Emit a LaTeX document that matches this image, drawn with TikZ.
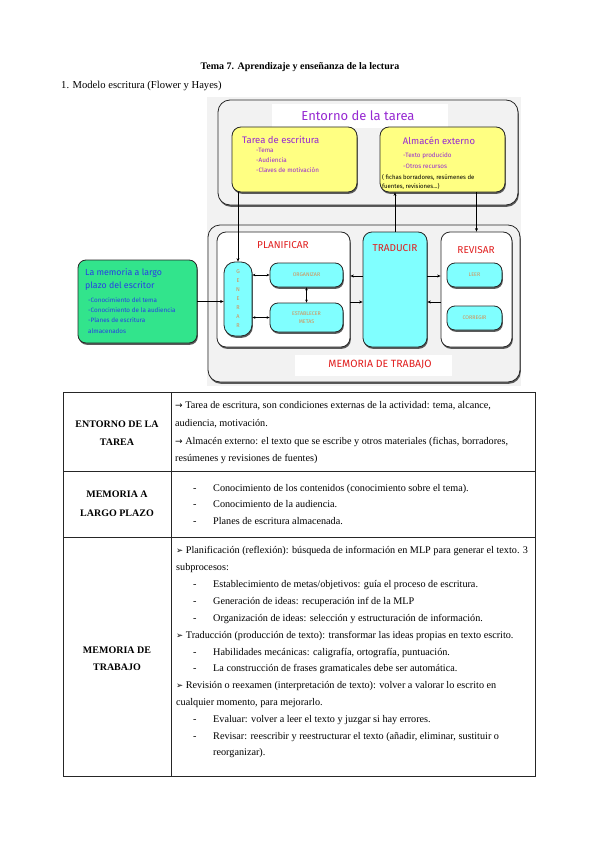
\documentclass[tikz,border=0pt]{standalone}
\usepackage{fontspec}
\setmainfont{Liberation Serif}
\newfontfamily\diag{Fira Sans}
\newfontfamily\symf{DejaVu Sans}
\usetikzlibrary{shadows,arrows.meta}
\definecolor{purp}{RGB}{150,40,210}
\definecolor{yel}{RGB}{255,255,130}
\definecolor{cyn}{RGB}{128,255,255}
\definecolor{grn}{RGB}{50,228,140}
\definecolor{redt}{RGB}{225,30,30}
\definecolor{orng}{RGB}{215,140,80}
\definecolor{bluet}{RGB}{40,60,230}
\definecolor{bggray}{RGB}{242,242,242}
\newcommand{\myarw}{{\symf\fontsize{9}{9}\selectfont →}}
\newcommand{\mybul}{{\symf\fontsize{8.5}{9}\selectfont ➢}}
\begin{document}
\begin{tikzpicture}[x=1pt,y=-1pt,
  shd/.style={drop shadow={shadow xshift=0.8pt,shadow yshift=-1.8pt,fill=black!80,opacity=0.8}},
  rbox/.style={draw=black!85,line width=0.8pt,rounded corners=9pt,inner sep=0pt,shd},
  ybox/.style={rbox,fill=yel},
  cbox/.style={rbox,fill=cyn},
  wbox/.style={rbox,fill=white},
  gbox/.style={rbox,fill=bggray},
  arr/.style={line width=0.5pt,-{Stealth[length=3.5pt,width=3pt]}},
  darr/.style={line width=0.5pt,{Stealth[length=3pt,width=2.6pt]}-{Stealth[length=3pt,width=2.6pt]}},
  dtitle/.style={inner sep=0pt,text=purp,font=\diag\fontsize{9.5}{11}\selectfont},
  ditem/.style={anchor=west,inner sep=0pt,text=purp,font=\diag\fontsize{6.3}{7}\selectfont},
  rtitle/.style={inner sep=0pt,text=redt,font=\diag\fontsize{10}{12}\selectfont},
  otext/.style={text=orng,font=\diag\fontsize{5.3}{6.5}\selectfont,align=center},
  tx/.style={anchor=base west,inner sep=0pt,font=\fontsize{10.2}{11}\selectfont},
  lbl/.style={anchor=base,inner sep=0pt,font=\bfseries\fontsize{10}{11}\selectfont},
  tbl/.style={line width=0.9pt,draw=black!85}]
\useasboundingbox (0,0) rectangle (600,848);
\fill[white] (0,0) rectangle (600,848);

% headings
\node[anchor=base,inner sep=0pt,font=\bfseries\fontsize{10}{11}\selectfont] (h1) at (300,70) {Tema 7. Aprendizaje y enseñanza de la lectura};
\node[anchor=base west,inner sep=0pt,font=\fontsize{10.6}{12}\selectfont] (h2) at (61,89) {1. Modelo escritura (Flower y Hayes)};

% diagram background
\fill[bggray] (207,97) rectangle (521,386);

% Entorno de la tarea
\node[gbox,rounded corners=12pt,minimum width=300,minimum height=105] (ent) at (368,152.5) {};
\fill[white] (272,104) rectangle (448,128);
\node[inner sep=0pt,text=purp,font=\diag\fontsize{13}{15}\selectfont] (entt) at (358,116) {Entorno de la tarea};

\node[ybox,minimum width=125,minimum height=65] (tar) at (294.5,159.5) {};
\node[dtitle,anchor=west] (tart) at (242,140) {Tarea de escritura};
\node[ditem] (tar1) at (256,150) {-Tema};
\node[ditem] (tar2) at (256,160) {-Audiencia};
\node[ditem] (tar3) at (256,170) {-Claves de motivación};

\node[ybox,minimum width=125,minimum height=65] (alm) at (442.5,159.5) {};
\node[dtitle] (almt) at (439,141) {Almacén externo};
\node[ditem] (alm1) at (403,156) {-Texto producido};
\node[ditem] (alm2) at (403,166) {-Otros recursos};
\node[anchor=west,inner sep=0pt,font=\diag\fontsize{6}{7}\selectfont] (alm3) at (382,177) {( fichas borradores, resúmenes de};
\node[anchor=west,inner sep=0pt,font=\diag\fontsize{6}{7}\selectfont] (alm4) at (382,186) {fuentes, revisiones...)};

% Memoria de trabajo
\node[gbox,rounded corners=12pt,minimum width=312,minimum height=157] (mt) at (364,303.5) {};
\node[wbox,minimum width=133,minimum height=115] (plan) at (283.5,289.5) {};
\node[rtitle] (plant) at (283,245) {PLANIFICAR};
\node[cbox,minimum width=64,minimum height=115] (trad) at (395,289.5) {};
\node[rtitle] (tradt) at (395,248) {TRADUCIR};
\node[wbox,minimum width=71,minimum height=115] (rev) at (476.5,289.5) {};
\node[rtitle] (revt) at (476,250) {REVISAR};
\fill[white] (295,355) rectangle (452,376);
\node[rtitle,font=\diag\fontsize{10.5}{12}\selectfont] (mtt) at (380,365) {MEMORIA DE TRABAJO};

\node[cbox,rounded corners=11pt,minimum width=28,minimum height=74,otext,font=\diag\fontsize{5.5}{9}\selectfont] (gen) at (238,299) {G\\E\\N\\E\\R\\A\\R};
\node[cbox,rounded corners=8pt,minimum width=73,minimum height=24,otext] (org) at (306.5,275) {ORGANIZAR};
\node[cbox,rounded corners=8pt,minimum width=73,minimum height=29,otext,font=\diag\fontsize{5.3}{8}\selectfont] (est) at (306.5,317.5) {ESTABLECER\\METAS};
\node[cbox,rounded corners=8pt,minimum width=55,minimum height=24,otext] (leer) at (474.5,275) {LEER};
\node[cbox,rounded corners=8pt,minimum width=55,minimum height=24,otext] (cor) at (474.5,318) {CORREGIR};

% Memoria a largo plazo
\node[rbox,fill=grn,rounded corners=8pt,minimum width=119,minimum height=83] (mlp) at (137.5,301.5) {};
\node[anchor=west,inner sep=0pt,text=bluet,font=\diag\fontsize{8.8}{10}\selectfont] (mlp1) at (85,273) {La memoria a largo};
\node[anchor=west,inner sep=0pt,text=bluet,font=\diag\fontsize{8.8}{10}\selectfont] (mlp2) at (85,286) {plazo del escritor};
\node[anchor=west,inner sep=0pt,text=bluet,font=\diag\fontsize{6.3}{7}\selectfont] (mlp3) at (88,300) {-Conocimiento del tema};
\node[anchor=west,inner sep=0pt,text=bluet,font=\diag\fontsize{6.3}{7}\selectfont] (mlp4) at (88,310) {-Conocimiento de la audiencia};
\node[anchor=west,inner sep=0pt,text=bluet,font=\diag\fontsize{6.3}{7}\selectfont] (mlp5) at (88,320) {-Planes de escritura};
\node[anchor=west,inner sep=0pt,text=bluet,font=\diag\fontsize{6.3}{7}\selectfont] (mlp6) at (88,331) {almacenados};

% connectors
\coordinate (ylow) at (0,302);
\coordinate (yhigh) at (0,276);
\draw[arr] (gen.north |- tar.south) -- (gen.north);
\draw[arr] (trad.north) -- (trad.north |- alm.south);
\draw[arr] (rev.north |- alm.south) -- (rev.north);
\draw[arr] (mlp.east) -- (mlp.east -| gen.west);
\draw[darr] (org.west -| gen.east) -- (org.west);
\draw[darr] (est.west -| gen.east) -- (est.west);
\draw[darr] (org.south) -- (est.north);
\draw[arr] (trad.west |- yhigh) -- (plan.east |- yhigh);
\draw[arr] (plan.east |- ylow) -- (trad.west |- ylow);
\draw[arr] (trad.east |- yhigh) -- (rev.west |- yhigh);
\draw[arr] (rev.west |- ylow) -- (trad.east |- ylow);

% table
\draw[tbl] (63,392) rectangle (535,776);
\draw[tbl] (171,392) -- (171,776);
\draw[tbl] (63,471) -- (535,471);
\draw[tbl] (63,537) -- (535,537);

\node[lbl] (l1a) at (117,427) {ENTORNO DE LA};
\node[lbl] (l1b) at (117,445) {TAREA};
\node[lbl] (l2a) at (117,497) {MEMORIA A};
\node[lbl] (l2b) at (117,516) {LARGO PLAZO};
\node[lbl] (l3a) at (117,653) {MEMORIA DE};
\node[lbl] (l3b) at (117,670) {TRABAJO};

\node[tx] (r1a) at (175,408) {\myarw{} Tarea de escritura, son condiciones externas de la actividad: tema, alcance,};
\node[tx] (r1b) at (175,426) {audiencia, motivación.};
\node[tx] (r1c) at (175,444) {\myarw{} Almacén externo: el texto que se escribe y otros materiales (fichas, borradores,};
\node[tx] (r1d) at (175,461) {resúmenes y revisiones de fuentes)};

\node[tx] (d2a) at (193,491) {-};
\node[tx] (r2a) at (213,491) {Conocimiento de los contenidos (conocimiento sobre el tema).};
\node[tx] (d2b) at (193,507) {-};
\node[tx] (r2b) at (213,507) {Conocimiento de la audiencia.};
\node[tx] (d2c) at (193,524) {-};
\node[tx] (r2c) at (213,524) {Planes de escritura almacenada.};

\node[tx] (r3a) at (176,553) {\mybul{} Planificación (reflexión): búsqueda de información en MLP para generar el texto. 3};
\node[tx] (r3b) at (176,570) {subprocesos:};
\node[tx] (d3a) at (193,587) {-};
\node[tx] (r3c) at (213,587) {Establecimiento de metas/objetivos: guía el proceso de escritura.};
\node[tx] (d3b) at (193,604) {-};
\node[tx] (r3d) at (213,604) {Generación de ideas: recuperación inf de la MLP};
\node[tx] (d3c) at (193,621) {-};
\node[tx] (r3e) at (213,621) {Organización de ideas: selección y estructuración de información.};
\node[tx] (r3f) at (176,638) {\mybul{} Traducción (producción de texto): transformar las ideas propias en texto escrito.};
\node[tx] (d3d) at (193,655) {-};
\node[tx] (r3g) at (213,655) {Habilidades mecánicas: caligrafía, ortografía, puntuación.};
\node[tx] (d3e) at (193,671) {-};
\node[tx] (r3h) at (213,671) {La construcción de frases gramaticales debe ser automática.};
\node[tx] (r3i) at (176,688) {\mybul{} Revisión o reexamen (interpretación de texto): volver a valorar lo escrito en};
\node[tx] (r3j) at (176,705) {cualquier momento, para mejorarlo.};
\node[tx] (d3f) at (193,722) {-};
\node[tx] (r3k) at (213,722) {Evaluar: volver a leer el texto y juzgar si hay errores.};
\node[tx] (d3g) at (193,739) {-};
\node[tx] (r3l) at (213,739) {Revisar: reescribir y reestructurar el texto (añadir, eliminar, sustituir o};
\node[tx] (r3m) at (213,755) {reorganizar).};
\end{tikzpicture}
\end{document}
